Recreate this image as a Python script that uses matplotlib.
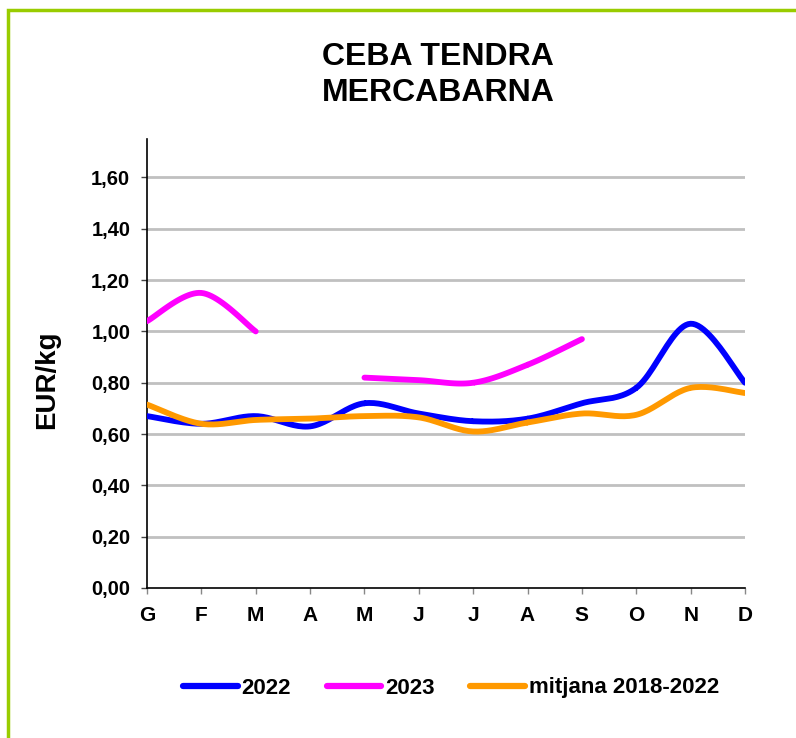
import numpy as np
import matplotlib
matplotlib.use("Agg")
import matplotlib.pyplot as plt
from matplotlib.lines import Line2D
from matplotlib.patches import Rectangle

plt.rcParams['font.family'] = ['Liberation Sans', 'DejaVu Sans']
plt.rcParams['font.weight'] = 'bold'

MONTHS = ["G", "F", "M", "A", "M", "J", "J", "A", "S", "O", "N", "D"]
Y2022 = [0.67, 0.64, 0.67, 0.63, 0.72, 0.68, 0.65, 0.66, 0.72, 0.78, 1.03, 0.80]
Y2023 = [1.04, 1.15, 1.00, None, 0.82, 0.81, 0.80, 0.87, 0.97, None, None, None]
MITJANA = [0.715, 0.64, 0.655, 0.66, 0.67, 0.665, 0.61, 0.645, 0.68, 0.675, 0.78, 0.76]
YTICKS = [0.0, 0.2, 0.4, 0.6, 0.8, 1.0, 1.2, 1.4, 1.6]

BLUE = "#0000ff"
MAGENTA = "#ff00ff"
ORANGE = "#ff9900"


def smooth(xs, ys, n=24):
    # catmull-rom curve, like excel's smoothed lines
    pts = np.column_stack([xs, ys]).astype(float)
    if len(pts) < 2:
        return pts
    p = np.vstack([pts[0], pts, pts[-1]])
    t = np.linspace(0, 1, n)[:, None]
    out = []
    for i in range(1, len(p) - 2):
        p0, p1, p2, p3 = p[i - 1], p[i], p[i + 1], p[i + 2]
        seg = 0.5 * (2 * p1 + (-p0 + p2) * t + (2 * p0 - 5 * p1 + 4 * p2 - p3) * t ** 2
                     + (-p0 + 3 * p1 - 3 * p2 + p3) * t ** 3)
        out.append(seg)
    return np.vstack(out)


def plot_series(ax, values, color):
    # split where values are missing
    runs, cur = [], []
    for i, v in enumerate(values):
        if v is None:
            if cur:
                runs.append(cur)
            cur = []
        else:
            cur.append((i, v))
    if cur:
        runs.append(cur)
    for r in runs:
        xs, ys = zip(*r)
        c = smooth(xs, ys)
        ax.plot(c[:, 0], c[:, 1], color=color, lw=4.2, solid_capstyle='round', zorder=3)


fig = plt.figure(figsize=(7.96, 7.38), dpi=100)
ax = fig.add_axes([147 / 796, 1 - 588 / 738, 598 / 796, 449 / 738])

plot_series(ax, Y2022, BLUE)
plot_series(ax, Y2023, MAGENTA)
plot_series(ax, MITJANA, ORANGE)

x = np.arange(len(MONTHS))
ax.set_xlim(0, len(MONTHS) - 1)
ax.set_ylim(0, 1.75)
ax.set_xticks(x)
ax.set_xticklabels(MONTHS, fontsize=15, fontweight='bold')
ax.set_yticks(YTICKS)
ax.set_yticklabels([f"{v:.2f}".replace(".", ",") for v in YTICKS], fontsize=14.5, fontweight='bold')
ax.tick_params(axis='x', direction='out', length=4, width=1, color='#888888', pad=9)
ax.tick_params(axis='y', direction='out', length=4, width=1, color='#444444', pad=8)

for v in YTICKS[1:]:
    ax.axhline(v, color='#c0c0c0', lw=2, zorder=1)

for s in ['top', 'right']:
    ax.spines[s].set_visible(False)
for s in ['left', 'bottom']:
    ax.spines[s].set_linewidth(1.2)
    ax.spines[s].set_color('black')

fig.text(47 / 796, 1 - 380 / 738, "EUR/kg", rotation=90, ha='center', va='center',
         fontsize=20, fontweight='bold')

fig.text(438 / 796, 1 - 75 / 738, "CEBA TENDRA\nMERCABARNA", ha='center', va='center',
         fontsize=23, fontweight='bold', linespacing=1.22)

handles = [Line2D([], [], color=BLUE, lw=4.5, solid_capstyle='round'),
           Line2D([], [], color=MAGENTA, lw=4.5, solid_capstyle='round'),
           Line2D([], [], color=ORANGE, lw=4.5, solid_capstyle='round')]
fig.legend(handles, ["2022", "2023", "mitjana 2018-2022"], loc='center',
           bbox_to_anchor=(451 / 796, 1 - 688 / 738), ncol=3, frameon=False,
           prop={'size': 16, 'weight': 'bold'}, handlelength=2.45, handletextpad=0.18,
           columnspacing=1.6)

fig.add_artist(Rectangle((8 / 796, -0.1), 1.2, 1.1 - 10 / 738, transform=fig.transFigure,
                         fill=False, edgecolor='#99cc00', lw=2.5, clip_on=False))

fig.savefig("out.png", dpi=100)
